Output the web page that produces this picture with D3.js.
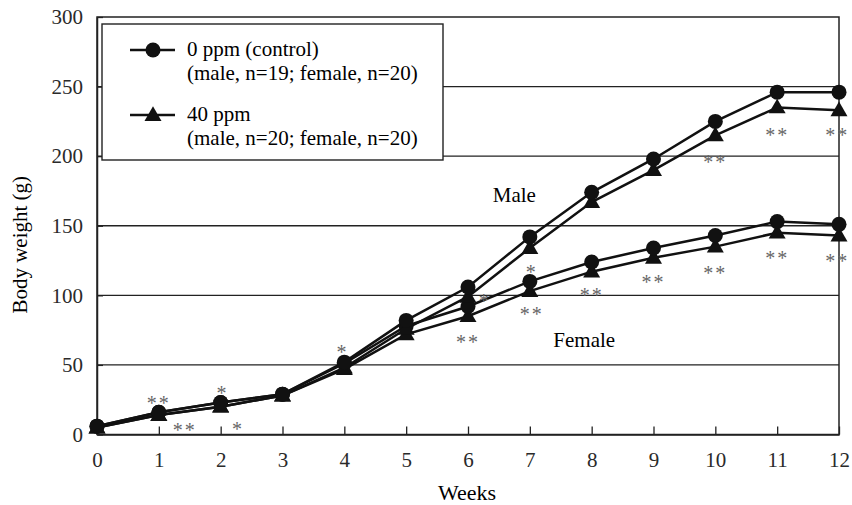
<!DOCTYPE html>
<html>
<head>
<meta charset="utf-8">
<script src="https://cdn.jsdelivr.net/npm/d3@7"></script>
<style>
  body { margin: 0; background: #fff; }
</style>
</head>
<body>
<script>
const width = 852;
const height = 505;
const margin = {top: 17, right: 12, bottom: 70, left: 97};
const serif = "'Liberation Serif', 'Times New Roman', Times, 'DejaVu Serif', serif";

const weeks = [0, 1, 2, 3, 4, 5, 6, 7, 8, 9, 10, 11, 12];
const maleControl = [6, 16, 23, 29, 52, 82, 106, 142, 174, 198, 225, 246, 246];
const male40 = [5, 14, 20, 28, 48, 76, 99, 134, 167, 190, 215, 235, 233];
const femaleControl = [6, 16, 23, 29, 51, 78, 92, 110, 124, 134, 143, 153, 151];
const female40 = [5, 14, 20, 28, 47, 72, 85, 103, 117, 127, 135, 145, 143];
const yTicks = [0, 50, 100, 150, 200, 250, 300];

// significance marks: [week, weight, label]
const stars = [
    [1, 25.5, "**"], [1.42, 6, "**"],
    [2.03, 33, "*"], [2.28, 7, "*"],
    [3.97, 62, "*"],
    [6.27, 99, "*"], [6, 69, "**"],
    [7.03, 120, "*"], [7.03, 89.5, "**"],
    [8, 103, "**"], [9, 112.5, "**"],
    [10, 119, "**"], [10, 198.5, "**"],
    [11, 218, "**"], [11, 129.7, "**"],
    [11.97, 218, "**"], [11.97, 127.5, "**"]
];
const groupLabels = [[6.75, 172, "Male"], [7.88, 68, "Female"]];
const legendItems = [
    ["circle", "0 ppm (control)", "(male, n=19; female, n=20)"],
    ["triangle", "40 ppm", "(male, n=20; female, n=20)"]
];

const svg = d3.select("body").append("svg")
              .attr("width", width)
              .attr("height", height)
              .style("font-family", serif);

const x = d3.scaleLinear().domain([0, 12]).range([margin.left, width - margin.right - 1]);
const y = d3.scaleLinear().domain([0, 300]).range([height - margin.bottom - 0.5, margin.top]);

// gridlines
svg.append("g")
   .selectAll("line")
   .data(yTicks.filter(d => d > 0 && d < 300))
   .join("line")
   .attr("x1", x(0)).attr("x2", x(12))
   .attr("y1", d => y(d)).attr("y2", d => y(d))
   .attr("stroke", "#222").attr("stroke-width", 1.3);

// frame
svg.append("rect")
   .attr("x", x(0)).attr("y", y(300))
   .attr("width", x(12) - x(0)).attr("height", y(0) - y(300))
   .attr("fill", "none").attr("stroke", "#222").attr("stroke-width", 1.5);

const xAxis = svg.append("g")
   .attr("transform", `translate(0,${y(0)})`)
   .call(d3.axisBottom(x).tickValues(weeks).tickSizeInner(-8).tickSizeOuter(0).tickPadding(18));
const yAxis = svg.append("g")
   .attr("transform", `translate(${x(0)},0)`)
   .call(d3.axisLeft(y).tickValues(yTicks).tickSizeInner(-6).tickSizeOuter(0).tickPadding(14));
[xAxis, yAxis].forEach(a => {
    a.attr("font-family", null).attr("font-size", null);
    a.select(".domain").attr("stroke", "#222").attr("stroke-width", 1.5);
    a.selectAll(".tick line").attr("stroke", "#222").attr("stroke-width", 1.3);
    a.selectAll(".tick text").style("font-size", "21px").attr("fill", "#2a2a2a");
});

svg.append("text")
   .attr("x", (x(0) + x(12)) / 2 - 1).attr("y", 500)
   .attr("text-anchor", "middle").style("font-size", "22px")
   .text("Weeks");
svg.append("text")
   .attr("transform", `translate(27,${(y(0) + y(300)) / 2 + 19}) rotate(-90)`)
   .attr("text-anchor", "middle").style("font-size", "21px")
   .text("Body weight (g)");

// legend
const legend = svg.append("g");
legend.append("rect")
   .attr("x", 102).attr("y", 24).attr("width", 341).attr("height", 136)
   .attr("fill", "#fff").attr("stroke", "#222").attr("stroke-width", 1.4);

const triangle = d3.symbol().type(d3.symbolTriangle).size(125);

legendItems.forEach(([shape, l1, l2], i) => {
    const cy = 50 + i * 65;
    legend.append("line")
       .attr("x1", 130).attr("x2", 175).attr("y1", cy).attr("y2", cy)
       .attr("stroke", "#111").attr("stroke-width", 2.5);
    if (shape === "circle") {
        legend.append("circle").attr("cx", 153).attr("cy", cy).attr("r", 7.5).attr("fill", "#111");
    } else {
        legend.append("path").attr("d", triangle()).attr("transform", `translate(153,${cy + 1})`).attr("fill", "#111");
    }
    legend.append("text").attr("x", 187).attr("y", cy + 6).style("font-size", "21px").text(l1);
    legend.append("text").attr("x", 187).attr("y", cy + 30).style("font-size", "21px").text(l2);
});

// series
const line = d3.line().x((d, i) => x(weeks[i])).y(d => y(d));
const series = [
    [female40, "triangle"], [femaleControl, "circle"],
    [male40, "triangle"], [maleControl, "circle"]
];
series.forEach(([vals]) => {
    svg.append("path").datum(vals)
       .attr("d", line)
       .attr("fill", "none").attr("stroke", "#111").attr("stroke-width", 2.5);
});
series.forEach(([vals, shape]) => {
    const g = svg.append("g");
    if (shape === "circle") {
        g.selectAll("circle").data(vals).join("circle")
         .attr("cx", (d, i) => x(weeks[i])).attr("cy", d => y(d))
         .attr("r", 7.5).attr("fill", "#111");
    } else {
        g.selectAll("path").data(vals).join("path")
         .attr("d", triangle())
         .attr("transform", (d, i) => `translate(${x(weeks[i])},${y(d) + 1})`)
         .attr("fill", "#111");
    }
});

// asterisks
svg.append("g").selectAll("text").data(stars).join("text")
   .attr("x", d => x(d[0])).attr("y", d => y(d[1]) + 11)
   .attr("text-anchor", "middle")
   .style("font-size", "20px").attr("fill", "#666")
   .attr("letter-spacing", "2px")
   .text(d => d[2]);

svg.append("g").selectAll("text").data(groupLabels).join("text")
   .attr("x", d => x(d[0])).attr("y", d => y(d[1]) + 7)
   .attr("text-anchor", "middle").style("font-size", "21px")
   .text(d => d[2]);

svg.selectAll("text").style("font-family", serif);
</script>
</body>
</html>
